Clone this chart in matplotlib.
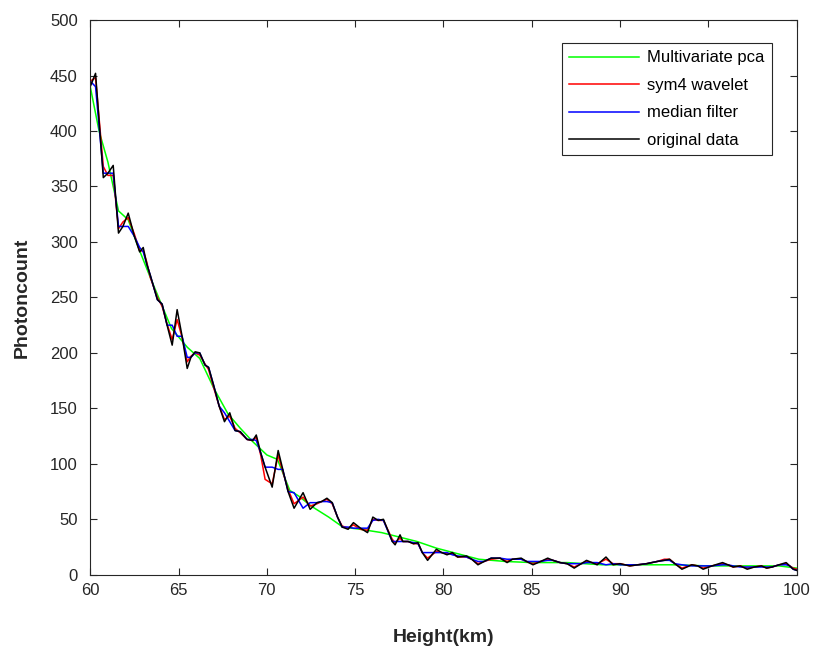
import matplotlib.pyplot as plt

plt.rcParams['font.family'] = ['Liberation Sans', 'DejaVu Sans']

# sampled heights (km), shared by original / median / wavelet series
height = [60.0, 60.3, 60.74, 61.0, 61.3, 61.6, 61.85, 62.15, 62.5, 62.8,
          63.0, 63.2, 63.4, 63.8, 64.07, 64.35, 64.64, 64.92, 65.2, 65.49,
          65.7, 65.94, 66.2, 66.5, 66.7, 67.0, 67.3, 67.6, 67.9, 68.2,
          68.49, 68.88, 69.2, 69.4, 69.65, 69.9, 70.3, 70.64, 70.9, 71.2,
          71.54, 72.05, 72.45, 72.84, 73.1, 73.4, 73.7, 74.0, 74.26, 74.6,
          74.9, 75.3, 75.7, 76.0, 76.3, 76.6, 77.1, 77.26, 77.54, 77.7,
          78.0, 78.3, 78.56, 78.8, 79.1, 79.6, 79.9, 80.2, 80.5, 80.8,
          81.3, 81.6, 81.95, 82.3, 82.7, 83.2, 83.6, 83.9, 84.4, 84.7,
          85.07, 85.5, 85.9, 86.2, 86.6, 87.0, 87.4, 87.8, 88.1, 88.4,
          88.7, 89.2, 89.6, 90.0, 90.55, 91.0, 91.5, 92.1, 92.5, 92.8,
          93.1, 93.5, 94.06, 94.4, 94.7, 95.2, 95.8, 96.1, 96.4, 96.8,
          97.2, 97.6, 98.0, 98.3, 98.6, 99.0, 99.4, 99.6, 99.8, 100.0]

original = [440, 452, 358, 362, 369, 308, 314, 326, 305, 291,
            295, 280, 270, 248, 244, 225, 207, 239, 215, 186,
            196, 201, 200, 189, 187, 170, 152, 138, 146, 130,
            129, 122, 121, 126, 110, 97, 79, 112, 95, 75,
            60, 74, 59, 65, 66, 69, 65, 52, 43, 41,
            47, 42, 38, 52, 49, 50, 30, 27, 36, 30,
            30, 28, 29, 20, 13, 23, 20, 18, 20, 16,
            17, 14, 9, 12, 15, 15, 11, 14, 15, 12,
            9, 12, 15, 13, 11, 10, 6, 10, 13, 11,
            9, 16, 9, 10, 8, 9, 10, 12, 13, 14,
            10, 5, 9, 8, 5, 8, 11, 9, 7, 8,
            5, 7, 8, 6, 7, 9, 11, 8, 5, 4]

median_f = [445, 440, 362, 362, 362, 314, 314, 314, 305, 295,
            291, 280, 270, 248, 244, 225, 225, 215, 215, 196,
            196, 200, 200, 189, 187, 170, 152, 146, 138, 130,
            129, 122, 122, 121, 110, 97, 97, 95, 95, 75,
            74, 60, 65, 65, 66, 66, 65, 52, 43, 43,
            42, 42, 42, 49, 50, 49, 30, 30, 30, 30,
            30, 29, 28, 20, 20, 20, 20, 20, 18, 17,
            16, 14, 12, 12, 15, 15, 14, 14, 14, 12,
            12, 12, 13, 13, 11, 10, 10, 10, 11, 11,
            11, 9, 10, 9, 9, 9, 10, 12, 13, 13,
            10, 9, 8, 8, 8, 8, 9, 9, 8, 7,
            7, 7, 7, 7, 7, 9, 9, 8, 5, 4]

wavelet = [445, 448, 368, 360, 360, 312, 318, 322, 307, 292,
           292, 282, 268, 250, 242, 226, 212, 230, 214, 192,
           197, 200, 198, 190, 185, 168, 152, 140, 143, 132,
           128, 122, 121, 124, 108, 86, 82, 108, 93, 77,
           64, 70, 62, 64, 66, 68, 64, 52, 44, 42,
           45, 41, 40, 50, 49, 49, 32, 29, 33, 30,
           30, 28, 28, 20, 15, 21, 20, 19, 19, 16,
           16, 14, 10, 12, 14, 15, 12, 14, 14, 12,
           10, 12, 14, 13, 11, 10, 7, 10, 12, 11,
           10, 14, 10, 10, 8, 9, 10, 12, 14, 14,
           10, 6, 9, 8, 6, 8, 10, 9, 7, 8,
           6, 7, 8, 6, 7, 9, 10, 8, 6, 5]

# multivariate pca reconstruction (coarser nodes)
pca_height = [60.0, 60.5, 61.0, 61.6, 62.15, 62.8, 63.4, 64.0, 64.6, 65.5,
              66.2, 67.0, 67.8, 68.5, 69.2, 70.0, 70.6, 71.3, 71.8, 72.5,
              73.5, 74.3, 75.3, 76.5, 77.5, 78.5, 79.6, 80.8, 82.0, 83.5,
              85.0, 87.0, 89.0, 91.0, 93.0, 95.0, 97.0, 99.0, 100.0]
pca = [440, 400, 372, 328, 320, 292, 268, 245, 222, 205,
       195, 168, 145, 132, 120, 108, 104, 76, 71, 62,
       52, 43, 41, 38, 34, 30, 24, 19, 14, 12,
       11, 11, 9, 9, 9, 8, 8, 8, 6]

fig = plt.figure(figsize=(8.13, 6.48), dpi=100)
ax = fig.add_axes([0.111, 0.113, 0.869, 0.856])

ax.plot(pca_height, pca, color=(0, 1, 0), lw=1.1, label='Multivariate pca')
ax.plot(height, wavelet, color=(1, 0, 0), lw=1.1, label='sym4 wavelet')
ax.plot(height, median_f, color=(0, 0, 1), lw=1.1, label='median filter')
ax.plot(height, original, color='black', lw=1.1, label='original data')

ax.set_xlim(60, 100)
ax.set_ylim(0, 500)
ax.set_xticks(range(60, 101, 5))
ax.set_yticks(range(0, 501, 50))
ax.tick_params(direction='in', top=True, right=True, labelsize=12,
               length=5, width=0.8, colors='#262626')
ax.tick_params(axis='y', pad=9)
ax.tick_params(axis='x', pad=6)
for s in ax.spines.values():
    s.set_color('#262626')
    s.set_linewidth(0.8)

ax.set_xlabel('Height(km)', fontsize=14, fontweight='bold', color='#262626',
              labelpad=22)
ax.set_ylabel('Photoncount', fontsize=14, fontweight='bold', color='#262626',
              labelpad=14)

leg = ax.legend(loc='upper right', bbox_to_anchor=(0.97, 0.965), fontsize=12,
                fancybox=False, edgecolor='#262626', framealpha=1,
                handlelength=4.2, handletextpad=0.5, borderpad=0.45,
                labelspacing=0.75, borderaxespad=0.2)
leg.get_frame().set_linewidth(0.8)

fig.savefig('out.png', dpi=100)
